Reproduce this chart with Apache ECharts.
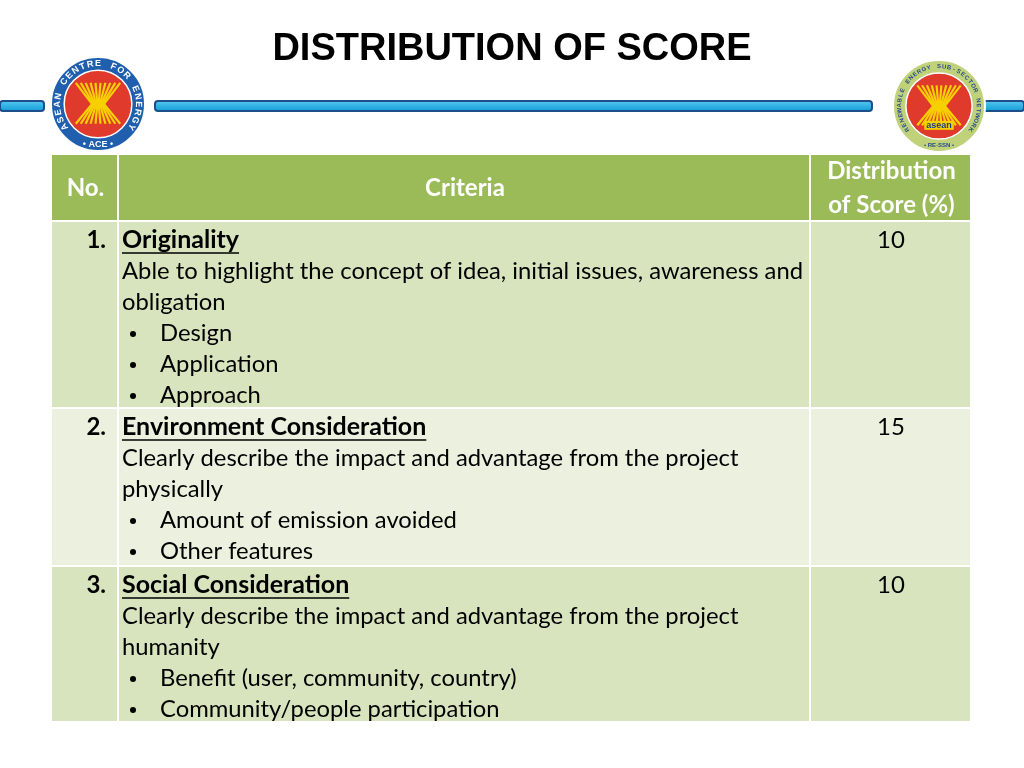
<!DOCTYPE html>
<html lang="en">
<head>
<meta charset="UTF-8">
<title>Distribution of Score</title>
<script src="https://cdn.jsdelivr.net/npm/echarts@6/dist/echarts.min.js"></script>
<style>body{margin:0;background:#fff}</style>
</head>
<body>
<div id="main" style="width:1024px;height:768px;"></div>
<script>
// table content
var headers = ['No.', 'Criteria', 'Distribution\nof Score (%)'];
var numbers = ['1.', '2.', '3.'];
var titles = ['Originality', 'Environment Consideration', 'Social Consideration'];
var descriptions = [
    ['Able to highlight the concept of idea, initial issues, awareness and', 'obligation'],
    ['Clearly describe the impact and advantage from the project', 'physically'],
    ['Clearly describe the impact and advantage from the project', 'humanity']
];
var bullets = [
    ['Design', 'Application', 'Approach'],
    ['Amount of emission avoided', 'Other features'],
    ['Benefit (user, community, country)', 'Community/people participation']
];
var scores = [10, 15, 10];

var myChart = echarts.init(document.getElementById('main'));
var zr = myChart.getZr();
var G = echarts.graphic;
var FONT = 'Lato, "Noto Sans", sans-serif';
var cols = [52, 119, 811, 972];
var rowTops = [222, 409, 567, 723];
var rowColors = ['#d7e4bd', '#ebf1de', '#d7e4bd'];
var LH = 31;
var ctx = document.createElement('canvas').getContext('2d');

function txt(x, y, s, font, fill, align, extra) {
    var st = {text: s, font: font, fill: fill, align: align || 'left', verticalAlign: 'middle'};
    if (extra) for (var k in extra) st[k] = extra[k];
    return new G.Text({x: x, y: y, style: st});
}

// title
zr.add(txt(512, 50, 'DISTRIBUTION OF SCORE', 'bold 38px "Liberation Sans", Arial', '#000', 'center'));

// blue bars
[[0, 44], [155, 872], [982, 1024]].forEach(function (s) {
    zr.add(new G.Rect({shape: {x: s[0], y: 101, width: s[1] - s[0], height: 10, r: 3},
        style: {fill: new G.LinearGradient(0, 0, 0, 1, [{offset: 0, color: '#5ccaf2'}, {offset: 1, color: '#0c9ad6'}]), stroke: '#1f4e8c', lineWidth: 2}}));
});

// logos
function logo(cx, cy, R, ringColor, textColor, ringText, bottom, inner, fs) {
    zr.add(new G.Circle({shape: {cx: cx, cy: cy, r: R}, style: {fill: ringColor, stroke: '#fff', lineWidth: 2}}));
    zr.add(new G.Circle({shape: {cx: cx, cy: cy, r: R * 0.72}, style: {fill: '#e03a2d', stroke: '#fff', lineWidth: 1.5}}));
    for (var i = 0; i < 10; i++) {
        var dx = (i - 4.5) * R * 0.07;
        zr.add(new G.Polyline({shape: {points: [[cx + dx * 1.5, cy - R * 0.45], [cx + dx * 0.4, cy], [cx + dx * 1.5, cy + R * 0.42]]},
            style: {stroke: '#f7d000', lineWidth: 2.2, fill: 'none'}}));
    }
    if (inner) zr.add(txt(cx, cy + R * 0.42, inner, 'bold 9px sans-serif', '#1a3c8c', 'center', {backgroundColor: '#f7d000', padding: [0, 2]}));
    var chars = ringText.split('');
    var span = 260, start = -90 - span / 2;
    chars.forEach(function (c, k) {
        var a = (start + span * (k + 0.5) / chars.length) * Math.PI / 180;
        var rr = R * 0.86;
        var t = txt(cx + rr * Math.cos(a), cy + rr * Math.sin(a), c, 'bold ' + fs + 'px "Liberation Sans"', textColor, 'center');
        t.rotation = -(a + Math.PI / 2);
        zr.add(t);
    });
    zr.add(txt(cx, cy + R * 0.86, bottom, 'bold ' + fs + 'px "Liberation Sans"', textColor, 'center'));
}
logo(98, 104, 47, '#1f5fae', '#fff', 'ASEAN CENTRE FOR ENERGY', '• ACE •', null, 9);
logo(939, 106, 46, '#bfd27a', '#2a4a8a', 'RENEWABLE ENERGY SUB-SECTOR NETWORK', '• RE-SSN •', 'asean', 6);

// header row
for (var c = 0; c < 3; c++) {
    zr.add(new G.Rect({shape: {x: cols[c], y: 155, width: cols[c + 1] - cols[c] - 2, height: 65}, style: {fill: '#9bbb59'}}));
    zr.add(txt((cols[c] + cols[c + 1]) / 2, 188, headers[c], 'bold 24px ' + FONT, '#fff', 'center', {lineHeight: 34}));
}

// body rows
for (var r = 0; r < 3; r++) {
    var rowTop = rowTops[r], h = rowTops[r + 1] - rowTop - 2;
    for (c = 0; c < 3; c++) {
        zr.add(new G.Rect({shape: {x: cols[c], y: rowTop, width: cols[c + 1] - cols[c] - 2, height: h}, style: {fill: rowColors[r]}}));
    }
    var y0 = rowTop + 18;
    zr.add(txt(106, y0, numbers[r], 'bold 24px ' + FONT, '#000', 'right'));
    zr.add(txt(891, y0, String(scores[r]), '24px ' + FONT, '#000', 'center'));
    zr.add(txt(122, y0, titles[r], 'bold 25px ' + FONT, '#000'));
    ctx.font = 'bold 25px ' + FONT;
    var w = ctx.measureText(titles[r]).width;
    zr.add(new G.Line({shape: {x1: 122, y1: y0 + 13, x2: 122 + w, y2: y0 + 13}, style: {stroke: '#000', lineWidth: 1.5}}));
    var line = y0;
    descriptions[r].forEach(function (d) {
        line += LH;
        zr.add(txt(122, line, d, '23.8px ' + FONT, '#000'));
    });
    bullets[r].forEach(function (b) {
        line += LH;
        zr.add(new G.Circle({shape: {cx: 133, cy: line + 1, r: 3}, style: {fill: '#000'}}));
        zr.add(txt(160, line, b, '23.8px ' + FONT, '#000'));
    });
}
</script>
</body>
</html>
